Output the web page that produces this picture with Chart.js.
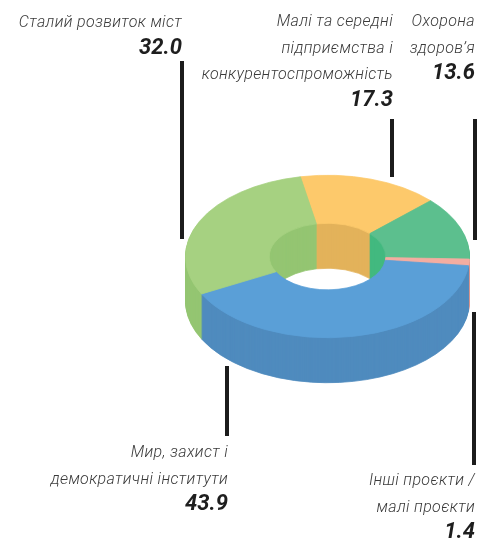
<!DOCTYPE html>
<html lang="uk">
<head>
<meta charset="utf-8">
<title>Пончикова діаграма</title>
<script src="https://cdn.jsdelivr.net/npm/chart.js@4.4.1/dist/chart.umd.min.js"></script>
<style>
  html, body { margin: 0; padding: 0; background: #fff; }
  #wrap { position: relative; width: 478px; height: 540px; overflow: hidden; }
  #chart { position: absolute; left: 0; top: 0; }
  .label { position: absolute; text-align: right; font-family: Roboto, "Noto Sans", sans-serif; font-style: italic; white-space: nowrap; }
  .label .t { font-size: 16px; line-height: 26.5px; font-weight: 300; letter-spacing: 0.35px; color: #3a3a3a; }
  .label .v { font-size: 22px; line-height: 22px; font-weight: 700; color: #1e1e1e; }
  .leader { position: absolute; width: 3.5px; background: #1c1c1c; }
</style>
</head>
<body>
<div id="wrap">
  <canvas id="chart" width="478" height="540"></canvas>
</div>
<script>
// clockwise from the top
const categories = [
  'Малі та середні підприємства і конкурентоспроможність',
  'Охорона здоров’я',
  'Інші проєкти / малі проєкти',
  'Мир, захист і демократичні інститути',
  'Сталий розвиток міст'
];
const labelLines = [
  ['Малі та середні', 'підприємства і', 'конкурентоспроможність'],
  ['Охорона', 'здоров’я'],
  ['Інші проєкти /', 'малі проєкти'],
  ['Мир, захист і', 'демократичні інститути'],
  ['Сталий розвиток міст']
];
const values = [17.3, 13.6, 1.4, 43.9, 32.0];

const topColors = ['#fdc96b', '#5cbf8e', '#f3ada1', '#5a9fd7', '#a6d181'];
const sideColors = ['#e3b25b', '#42b97f', '#df958b', '#4f8bbe', '#94c572'];

// label block: right edge, top; leader line: x, from y1 to y2
const labelPos = [
  { right: 393, top: 8.3 },
  { right: 475, top: 8.3 },
  { right: 475, top: 467.3 },
  { right: 228, top: 439.3 },
  { right: 182, top: 9.3 }
];
const leaders = [
  { x: 392, y1: 119, y2: 177 },
  { x: 475, y1: 119, y2: 240 },
  { x: 474, y1: 312, y2: 465 },
  { x: 227, y1: 366, y2: 436 },
  { x: 182, y1: 61, y2: 239 }
];

const TILT = 0.572;
const DEPTH = 45;

const wrap = document.getElementById('wrap');
categories.forEach((c, i) => {
  const div = document.createElement('div');
  div.className = 'label';
  div.title = c;
  div.style.right = (478 - labelPos[i].right) + 'px';
  div.style.top = labelPos[i].top + 'px';
  div.innerHTML = labelLines[i].map(l => `<div class="t">${l}</div>`).join('') +
    `<div class="v">${values[i].toFixed(1)}</div>`;
  wrap.appendChild(div);

  const line = document.createElement('div');
  line.className = 'leader';
  line.style.left = (leaders[i].x - 1.75) + 'px';
  line.style.top = leaders[i].y1 + 'px';
  line.style.height = (leaders[i].y2 - leaders[i].y1) + 'px';
  wrap.appendChild(line);
});

// fake 3D: squash the ring and stack darker copies under it
const extrude = {
  id: 'extrude',
  beforeDatasetsDraw(chart) {
    const ctx = chart.ctx;
    const arcs = chart.getDatasetMeta(0).data;
    const cx = arcs[0].x, cy = arcs[0].y;
    for (let d = DEPTH; d > 0; d--) {
      arcs.forEach((arc, i) => {
        const p = arc.getProps(['startAngle', 'endAngle', 'innerRadius', 'outerRadius']);
        ctx.save();
        ctx.translate(cx, cy + d);
        ctx.scale(1, TILT);
        ctx.beginPath();
        ctx.arc(0, 0, p.outerRadius, p.startAngle, p.endAngle);
        ctx.arc(0, 0, p.innerRadius, p.endAngle, p.startAngle, true);
        ctx.closePath();
        ctx.fillStyle = sideColors[i];
        ctx.strokeStyle = sideColors[i];
        ctx.lineWidth = 1;
        ctx.fill();
        ctx.stroke();
        ctx.restore();
      });
    }
    ctx.save();
    ctx.translate(cx, cy);
    ctx.scale(1, TILT);
    ctx.translate(-cx, -cy);
  },
  afterDatasetsDraw(chart) {
    chart.ctx.restore();
  }
};

new Chart(document.getElementById('chart'), {
  type: 'doughnut',
  data: {
    labels: categories,
    datasets: [{
      data: values,
      backgroundColor: topColors,
      borderColor: topColors,
      borderWidth: 1
    }]
  },
  options: {
    responsive: false,
    devicePixelRatio: 1,
    animation: false,
    events: [],
    rotation: -11,
    cutout: '41%',
    layout: { padding: { left: 185, right: 8, top: 114, bottom: 141 } },
    plugins: {
      legend: { display: false },
      tooltip: { enabled: false }
    }
  },
  plugins: [extrude]
});
</script>
</body>
</html>
